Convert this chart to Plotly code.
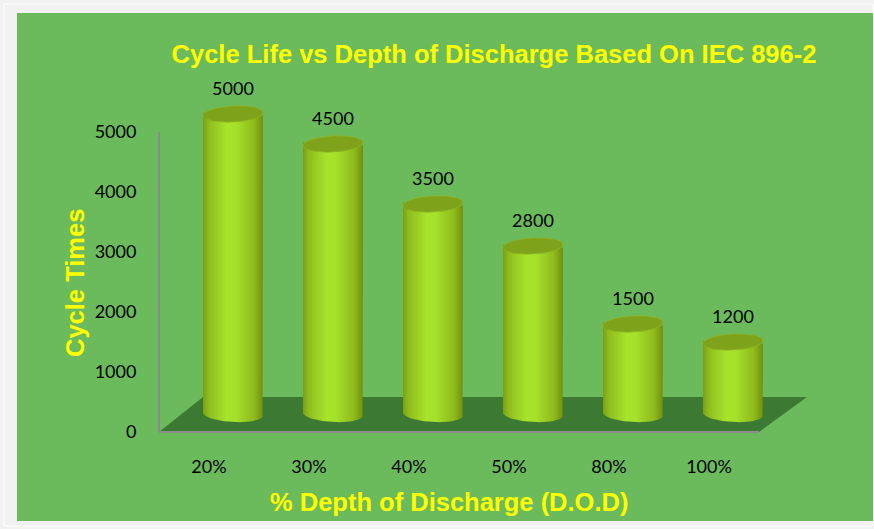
import numpy as np
import plotly.graph_objects as go

# ---- data ----
categories = ["20%", "30%", "40%", "50%", "80%", "100%"]
cycle_times = [5000, 4500, 3500, 2800, 1500, 1200]
y_ticks = [0, 1000, 2000, 3000, 4000, 5000]
title_text = "Cycle Life vs Depth of Discharge Based On IEC 896-2"
x_title = "% Depth of Discharge (D.O.D)"
y_title = "Cycle Times"

# ---- geometry / style constants (pixel layout) ----
W, H = 874, 529
PX_L, PX_R = 156, 829          # plot area left/right in px
PX_T, PX_B = 80, 435           # plot area top/bottom in px
X_RANGE = [-0.53, 6.2]
PX_PER_UNIT = 0.06             # vertical px per data unit
Y0 = -3 / PX_PER_UNIT
Y_RANGE = [Y0, Y0 + (PX_B - PX_T) / PX_PER_UNIT]
PX_ZERO = 432                  # pixel row of value 0

DEPTH_X = 0.24                 # cylinder shift in category units
BASE = 18 / PX_PER_UNIT        # cylinder base lift
RX = 0.30
RY = 8 / PX_PER_UNIT
TILT = 1.5 / PX_PER_UNIT
FLOOR_H = 35 / PX_PER_UNIT
FLOOR_DX_L, FLOOR_DX_R = 0.44, 0.48

BG_GREEN = "#6BBB5D"
FLOOR = "#3C7A33"
TOP = "#7FA21B"
AXIS_GREY = "#8C8C8C"
YELLOW = "#FFFF00"
TITLE_SIZE = 25.5

def px2paper_x(px):
    return (px - PX_L) / (PX_R - PX_L)

def px2paper_y(py):
    return (PX_B - py) / (PX_B - PX_T)

fig = go.Figure()

n = len(categories)
xs = np.arange(n)

# floor
fig.add_trace(go.Scatter(
    x=[xs[0] - 0.5, xs[-1] + 0.5, xs[-1] + 0.5 + FLOOR_DX_R, xs[0] - 0.5 + FLOOR_DX_L, xs[0] - 0.5],
    y=[0, 0, FLOOR_H, FLOOR_H, 0],
    fill="toself", fillcolor=FLOOR, mode="lines", line=dict(width=0),
    hoverinfo="skip", showlegend=False))

grad = [[0, "#7C9E14"], [0.1, "#8FBD1E"], [0.4, "#A8E42C"], [0.55, "#A5E02A"],
        [0.85, "#8EBB1C"], [1, "#728E0F"]]

t_low = np.linspace(0, -np.pi, 40)
t_full = np.linspace(0, 2 * np.pi, 80)
for i, v in enumerate(cycle_times):
    cx = xs[i] + DEPTH_X
    top = BASE + v
    # body
    bx = np.concatenate([[cx - RX, cx - RX, cx + RX], cx + RX * np.cos(t_low), [cx - RX]])
    by = np.concatenate([[BASE + TILT, top + TILT, top - TILT],
                         BASE + RY * np.sin(t_low) - TILT * np.cos(t_low), [BASE + TILT]])
    fig.add_trace(go.Scatter(
        x=bx, y=by, fill="toself", mode="lines", line=dict(width=0),
        fillgradient=dict(type="horizontal", colorscale=grad),
        hoverinfo="skip", showlegend=False))
    # top ellipse
    ex = cx + RX * np.cos(t_full)
    ey = top + RY * np.sin(t_full) + TILT * np.cos(t_full)
    fig.add_trace(go.Scatter(
        x=ex, y=ey, fill="toself", fillcolor=TOP, mode="lines",
        line=dict(width=0.8, color="#8DB321"),
        hoverinfo="skip", showlegend=False))

# data labels
fig.add_trace(go.Scatter(
    x=xs + DEPTH_X, y=[BASE + v + 24 / PX_PER_UNIT for v in cycle_times],
    mode="text", text=[str(v) for v in cycle_times],
    textfont=dict(family="Lato", size=18, color="#000000"),
    textposition="middle center", cliponaxis=False,
    hoverinfo="skip", showlegend=False))

shapes = [
    # outer faint border
    dict(type="rect", xref="paper", yref="paper",
         x0=px2paper_x(4), x1=px2paper_x(873), y0=px2paper_y(526), y1=px2paper_y(4),
         line=dict(color="#FFFFFF", width=1), fillcolor="#F2F2F2", layer="below"),
    # green panel
    dict(type="rect", xref="paper", yref="paper",
         x0=px2paper_x(17), x1=px2paper_x(873), y0=px2paper_y(521), y1=px2paper_y(13),
         line=dict(width=0), fillcolor=BG_GREEN, layer="below"),
    # value axis line
    dict(type="line", xref="x", yref="y", x0=xs[0] - 0.5, x1=xs[0] - 0.5,
         y0=y_ticks[0], y1=y_ticks[-1], line=dict(color=AXIS_GREY, width=2)),
    # floor front edge
    dict(type="line", xref="x", yref="y", x0=xs[0] - 0.5, x1=xs[-1] + 0.5,
         y0=0, y1=0, line=dict(color=AXIS_GREY, width=2)),
]

annotations = [
    dict(text=y_title, xref="paper", yref="paper", x=px2paper_x(75), y=px2paper_y(283),
         textangle=-90, showarrow=False, xanchor="center", yanchor="middle",
         font=dict(family="Liberation Sans", size=TITLE_SIZE, color=YELLOW, weight="bold")),
    dict(text=x_title, xref="paper", yref="paper", x=px2paper_x(449), y=px2paper_y(502),
         showarrow=False, xanchor="center", yanchor="middle",
         font=dict(family="Liberation Sans", size=TITLE_SIZE, color=YELLOW, weight="bold")),
]

fig.update_layout(
    width=W, height=H,
    margin=dict(l=PX_L, r=W - PX_R, t=PX_T, b=H - PX_B, pad=0),
    paper_bgcolor="#F2F2F2", plot_bgcolor="rgba(0,0,0,0)",
    title=dict(text=title_text, x=494 / W, xanchor="center", y=1 - 54 / H, yanchor="middle",
               yref="container",
               font=dict(family="Liberation Sans", size=TITLE_SIZE, color=YELLOW, weight="bold")),
    xaxis=dict(range=X_RANGE, tickvals=list(xs), ticktext=categories, showgrid=False,
               zeroline=False, showline=False, ticks="outside", ticklen=15,
               tickcolor="rgba(0,0,0,0)",
               tickfont=dict(family="Lato", size=18, color="#000000"), fixedrange=True),
    yaxis=dict(range=Y_RANGE, tickvals=y_ticks, showgrid=False, zeroline=False,
               showline=False, ticks="outside", ticklen=15, tickcolor="rgba(0,0,0,0)",
               tickfont=dict(family="Lato", size=18, color="#000000"), fixedrange=True),
    shapes=shapes, annotations=annotations, showlegend=False,
)

fig.write_html("out.html", config={"displayModeBar": False},
               post_script="document.body.style.margin='0';document.body.style.overflow='hidden';")
